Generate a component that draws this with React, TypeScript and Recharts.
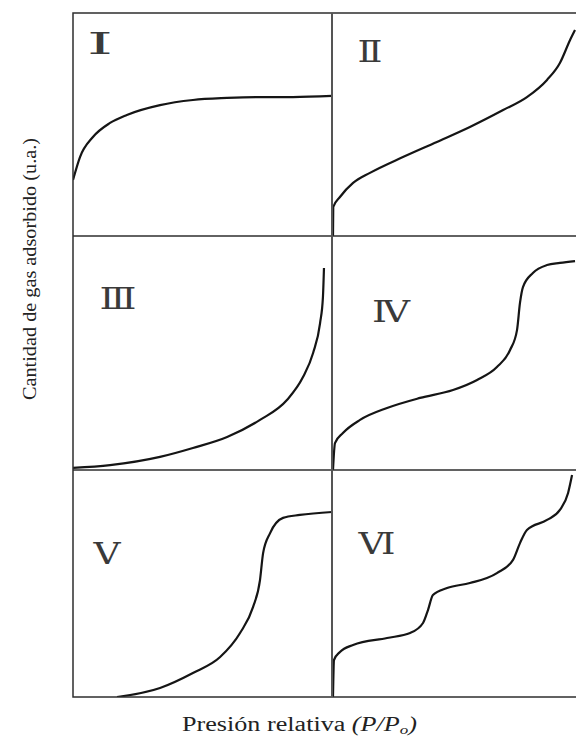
import { LineChart, Line, XAxis, YAxis } from "recharts";

const presionI = [0, 0.027, 0.077, 0.143, 0.208, 0.336, 0.463, 0.595, 0.722, 0.849, 1.0];
const cantidadI = [0.251, 0.354, 0.444, 0.507, 0.543, 0.587, 0.61, 0.619, 0.623, 0.623, 0.628];

const presionII = [0.004, 0.005, 0.032, 0.085, 0.153, 0.286, 0.423, 0.556, 0.69, 0.786, 0.867, 0.919, 0.96, 0.98];
const cantidadII = [0, 0.13, 0.175, 0.238, 0.283, 0.354, 0.422, 0.489, 0.565, 0.623, 0.7, 0.776, 0.879, 0.924];

const presionIII = [0, 0.143, 0.336, 0.463, 0.595, 0.722, 0.826, 0.888, 0.927, 0.954, 0.965, 0.969];
const cantidadIII = [0.009, 0.021, 0.056, 0.094, 0.141, 0.214, 0.299, 0.397, 0.5, 0.628, 0.739, 0.863];

const presionIV = [0.004, 0.012, 0.044, 0.113, 0.222, 0.355, 0.488, 0.585, 0.665, 0.718, 0.746, 0.758, 0.77, 0.81, 0.867, 0.919, 0.98];
const cantidadIV = [0, 0.115, 0.158, 0.214, 0.265, 0.308, 0.342, 0.385, 0.44, 0.513, 0.598, 0.714, 0.782, 0.842, 0.876, 0.885, 0.893];

const presionV = [0.17, 0.336, 0.463, 0.568, 0.645, 0.695, 0.722, 0.734, 0.761, 0.811, 0.876, 1.0];
const cantidadV = [0, 0.04, 0.106, 0.176, 0.282, 0.396, 0.515, 0.634, 0.722, 0.789, 0.802, 0.815];

const presionVI = [0.004, 0.008, 0.032, 0.085, 0.222, 0.315, 0.367, 0.387, 0.407, 0.464, 0.556, 0.665, 0.73, 0.758, 0.786, 0.867, 0.919, 0.952, 0.968];
const cantidadVI = [0, 0.163, 0.198, 0.229, 0.26, 0.282, 0.326, 0.383, 0.449, 0.48, 0.502, 0.546, 0.604, 0.678, 0.736, 0.78, 0.824, 0.899, 0.978];

const tipos = ["Ⅰ", "Ⅱ", "Ⅲ", "Ⅳ", "Ⅴ", "Ⅵ"];

const toRows = (xs: number[], ys: number[]) => xs.map((x, i) => ({ p: x, v: ys[i] }));

const LEFT = 73;
const MID = 332;
const RIGHT = 580;
const ROWS = [13, 236, 470, 697];
const INK = "#151515";
const FRAME = "#2e2e2e";

interface PanelProps {
  data: { p: number; v: number }[];
  col: number;
  row: number;
}

function Panel({ data, col, row }: PanelProps) {
  const left = col === 0 ? LEFT : MID;
  const width = col === 0 ? MID - LEFT : RIGHT - MID;
  const top = ROWS[row];
  const height = ROWS[row + 1] - ROWS[row];
  return (
    <div style={{ position: "absolute", left, top, width, height }}>
      <LineChart width={width} height={height} data={data} margin={{ top: 0, right: 0, bottom: 0, left: 0 }}>
        <XAxis dataKey="p" type="number" domain={[0, 1]} hide />
        <YAxis type="number" domain={[0, 1]} hide />
        <Line
          type="monotone"
          dataKey="v"
          stroke={INK}
          strokeWidth={2.2}
          dot={false}
          isAnimationActive={false}
        />
      </LineChart>
    </div>
  );
}

// label centres for the roman numerals
const labelPos = [
  [100, 43],
  [370, 51],
  [118, 298],
  [391, 311],
  [107, 553],
  [377, 543],
];
const labelWidth = [26, 25, 37, 38, 27, 37];

export default function App() {
  const series = [
    toRows(presionI, cantidadI),
    toRows(presionII, cantidadII),
    toRows(presionIII, cantidadIII),
    toRows(presionIV, cantidadIV),
    toRows(presionV, cantidadV),
    toRows(presionVI, cantidadVI),
  ];

  return (
    <div
      style={{
        position: "absolute",
        left: 0,
        top: 0,
        width: 576,
        height: 737,
        overflow: "hidden",
        background: "#fff",
      }}
    >
      {series.map((d, i) => (
        <Panel key={i} data={d} col={i % 2} row={Math.floor(i / 2)} />
      ))}

      <svg width={576} height={737} style={{ position: "absolute", left: 0, top: 0, pointerEvents: "none" }}>
        {/* frame */}
        <rect x={LEFT} y={ROWS[0]} width={RIGHT - LEFT} height={ROWS[3] - ROWS[0]} fill="none" stroke={FRAME} strokeWidth={1.5} />
        <line x1={LEFT} x2={RIGHT} y1={ROWS[1]} y2={ROWS[1]} stroke={FRAME} strokeWidth={1.5} />
        <line x1={LEFT} x2={RIGHT} y1={ROWS[2]} y2={ROWS[2]} stroke={FRAME} strokeWidth={1.5} />
        <line x1={MID} x2={MID} y1={ROWS[0]} y2={ROWS[3]} stroke="#555" strokeWidth={2} />

        {tipos.map((t, i) => (
          <text
            key={t}
            x={labelPos[i][0] - labelWidth[i] / 2}
            y={labelPos[i][1] + 11}
            fontFamily="DejaVu Serif"
            fontSize={29}
            fill="#3a3a3a"
            textLength={labelWidth[i]}
            lengthAdjust="spacingAndGlyphs"
          >
            {t}
          </text>
        ))}

        <text
          x={36}
          y={269}
          transform="rotate(-90 36 269)"
          textAnchor="middle"
          fontFamily="Liberation Serif"
          fontSize={19}
          fill="#222"
          textLength={262}
          lengthAdjust="spacingAndGlyphs"
        >
          Cantidad de gas adsorbido (u.a.)
        </text>

        <text
          x={182}
          y={731}
          fontFamily="Liberation Serif"
          fontSize={20}
          fill="#222"
          textLength={235}
          lengthAdjust="spacingAndGlyphs"
        >
          Presión relativa <tspan fontStyle="italic">(P/P</tspan>
          <tspan fontStyle="italic" fontSize={13} dy={3}>o</tspan>
          <tspan fontStyle="italic" dy={-3}>)</tspan>
        </text>
      </svg>
    </div>
  );
}
